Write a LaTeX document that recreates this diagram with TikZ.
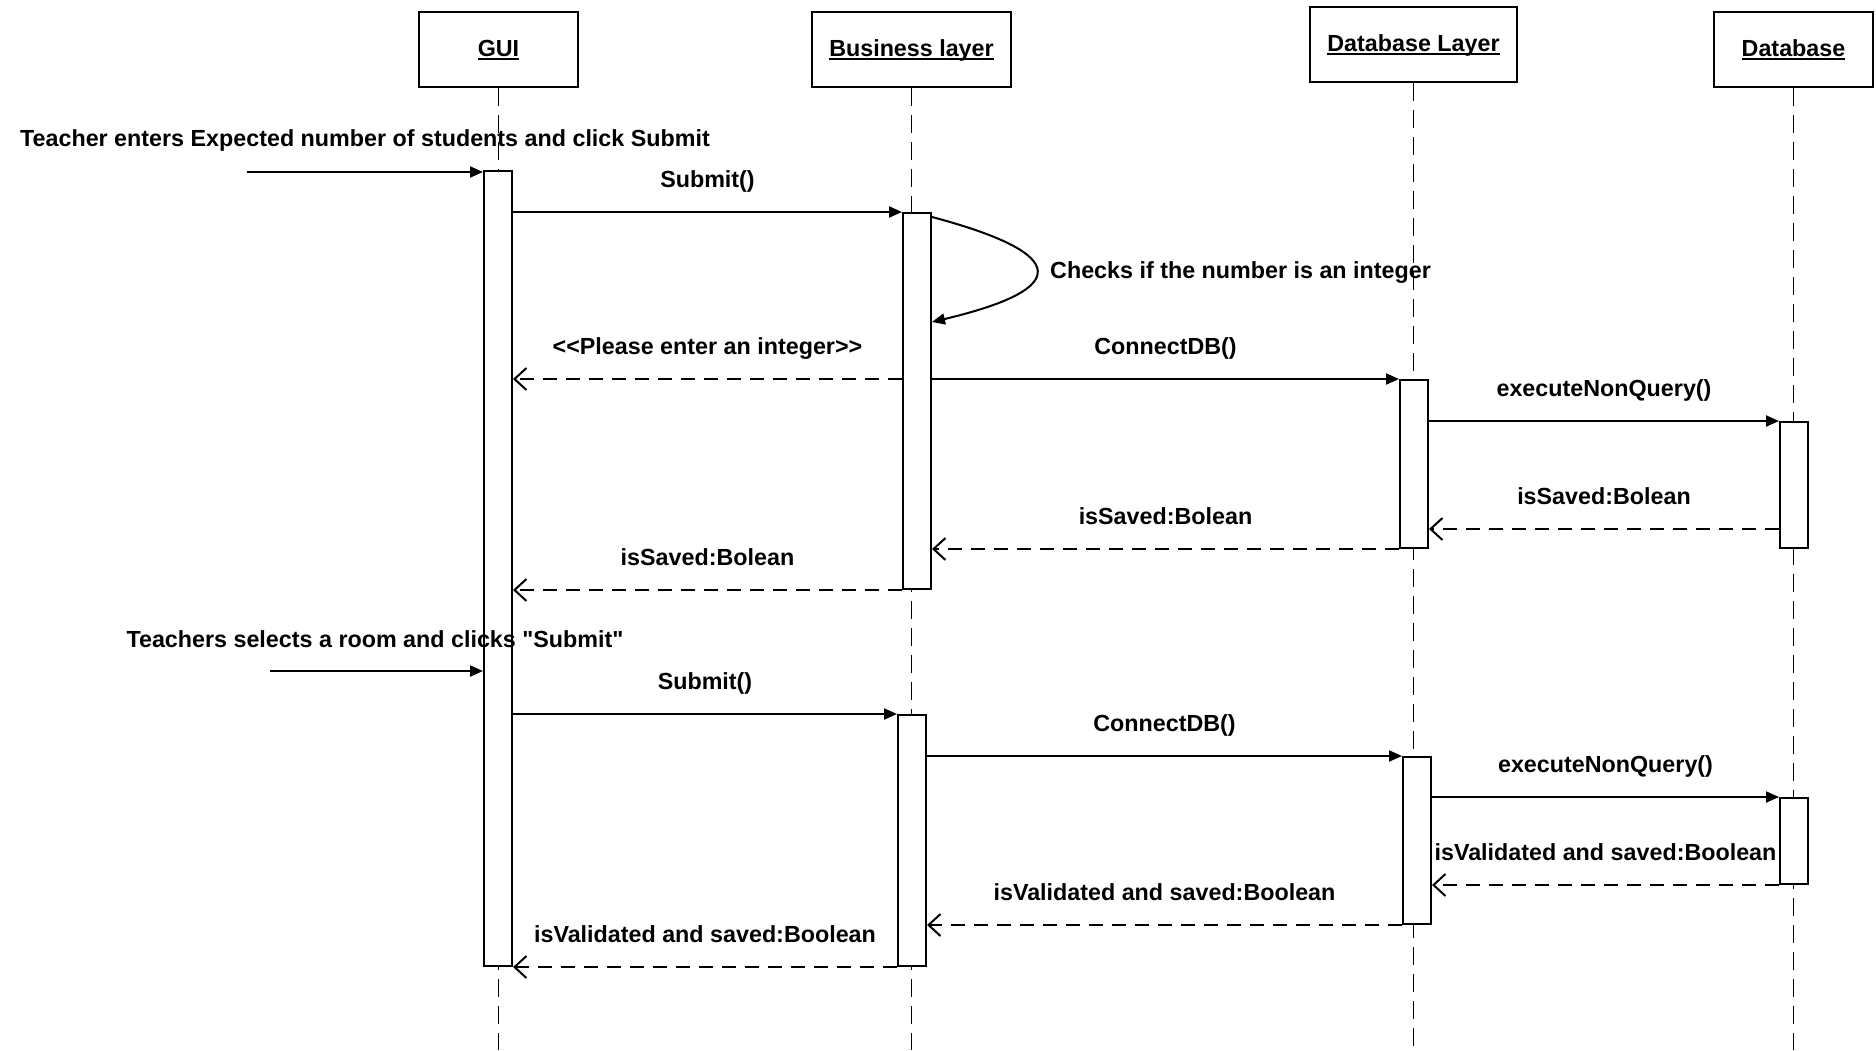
\documentclass[tikz,border=0pt]{standalone}
\usepackage{fontspec}
\setmainfont{Liberation Sans}[Ligatures=TeXOff]
\usepackage{tikz}
\usetikzlibrary{positioning,calc,arrows.meta}
\newsavebox\headbox
\newcommand{\headname}[1]{\sbox\headbox{#1}\usebox\headbox\kern-\wd\headbox\rule[-4pt]{\wd\headbox}{2pt}}

\begin{document}
\begin{tikzpicture}[x=1pt, y=-1pt, font=\fontsize{23.3}{28}\selectfont\bfseries,
		head/.style={draw, line width=2pt, minimum height=75pt, inner sep=0pt, text height=17pt, text depth=4pt},
		act/.style={draw, fill=white, line width=2pt, minimum width=28pt, inner sep=0pt},
		life/.style={line width=1.5pt, dash pattern=on 18pt off 9pt},
		call/.style={line width=2pt, -{Triangle[length=13pt,width=11pt]}},
		reply/.style={line width=2pt, dash pattern=on 14pt off 9pt, -{Straight Barb[length=12pt,width=22pt]}},
		lbl/.style={text height=17pt, text depth=5pt, inner sep=0pt},
		msg/.style={lbl, midway, yshift=31pt}]
		\useasboundingbox (0,0) rectangle (1876,1050);
		\node[head, minimum width=159pt] (gui) at (498.5,49.5) {\headname{GUI}};
		\node[head, minimum width=199pt] (bus) at (911.5,49.5) {\headname{Business layer}};
		\node[head, minimum width=207pt] (dbl) at (1413.5,44.5) {\headname{Database Layer}};
		\node[head, minimum width=159pt] (db) at (1793.5,49.5) {\headname{Database}};
		\coordinate (bottom) at (0,1050);
		\foreach \n in {gui,bus,dbl,db}
			\draw[life] (\n.south) -- (\n.south |- bottom);

		\node[act, minimum height=795pt] (ga) at (498,568.5) {};
		\node[act, minimum height=376pt] (ba1) at (917,401) {};
		\node[act, minimum height=251pt] (ba2) at (912,840.5) {};
		\node[act, minimum height=168pt] (da1) at (1414,464) {};
		\node[act, minimum height=167pt] (da2) at (1417,840.5) {};
		\node[act, minimum height=126pt] (dba1) at (1794,485) {};
		\node[act, minimum height=86pt] (dba2) at (1794,841) {};

		\coordinate (in1) at (247,172);
		\node[lbl] (t1) at (365,140) {Teacher enters Expected number of students and click Submit};
		\draw[call] (in1) -- (in1 -| ga.west);
		\draw[call] (ba1.north west -| ga.east) -- (ba1.north west) node[msg] (m1) {Submit()};
		\draw[call] ($(ba1.north east)+(0,5)$) .. controls +(139,37) and +(139,-33) .. ($(ba1.north east)+(0,110)$);
		\node[lbl, anchor=west] (chk) at (1050,272) {Checks if the number is an integer};
		\draw[reply] (ba1.west |- da1.north) -- (ga.east |- da1.north) node[msg] (m2) {<<Please enter an integer>>};
		\draw[call] (da1.north west -| ba1.east) -- (da1.north west) node[msg] (m3) {ConnectDB()};
		\draw[call] (dba1.north west -| da1.east) -- (dba1.north west) node[msg] (m4) {executeNonQuery()};
		\coordinate (r1) at ($(dba1.south west)+(0,-20)$);
		\draw[reply] (r1) -- (r1 -| da1.east) node[msg] (m5) {isSaved:Bolean};
		\draw[reply] (da1.south west) -- (da1.south west -| ba1.east) node[msg] (m6) {isSaved:Bolean};
		\draw[reply] (ba1.south west) -- (ba1.south west -| ga.east) node[msg] (m7) {isSaved:Bolean};

		\coordinate (in2) at (270,671);
		\node[lbl] (t2) at (375,641) {Teachers selects a room and clicks "Submit"};
		\draw[call] (in2) -- (in2 -| ga.west);
		\draw[call] (ba2.north west -| ga.east) -- (ba2.north west) node[msg] (n1) {Submit()};
		\draw[call] (da2.north west -| ba2.east) -- (da2.north west) node[msg] (n2) {ConnectDB()};
		\draw[call] (dba2.north west -| da2.east) -- (dba2.north west) node[msg] (n3) {executeNonQuery()};
		\draw[reply] (dba2.south west) -- (dba2.south west -| da2.east) node[msg] (n4) {isValidated and saved:Boolean};
		\draw[reply] (da2.south west) -- (da2.south west -| ba2.east) node[msg] (n5) {isValidated and saved:Boolean};
		\draw[reply] (ba2.south west) -- (ba2.south west -| ga.east) node[msg] (n6) {isValidated and saved:Boolean};
	\end{tikzpicture}
\end{document}
